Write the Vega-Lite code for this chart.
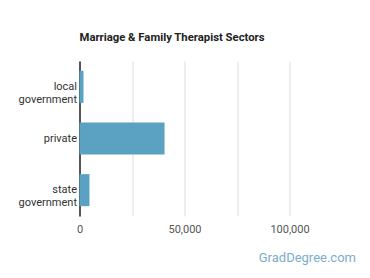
{
  "$schema": "https://vega.github.io/schema/vega-lite/v6.json",
  "autosize": "none",
  "width": 262.5,
  "height": 155,
  "padding": {"left": 79.5, "top": 61, "right": 28, "bottom": 62},
  "background": "white",
  "title": {
    "text": "Marriage & Family Therapist Sectors",
    "anchor": "start",
    "frame": "group",
    "font": "Roboto",
    "fontSize": 11.3,
    "fontWeight": "bold",
    "color": "#222222",
    "offset": 18
  },
  "data": {
    "values": [
      {"sector": "local government", "workers": 1900},
      {"sector": "private", "workers": 40500},
      {"sector": "state government", "workers": 4750}
    ]
  },
  "mark": {"type": "bar", "color": "#5ba1c2"},
  "encoding": {
    "y": {
      "field": "sector",
      "type": "nominal",
      "sort": null,
      "scale": {"paddingInner": 0.38, "paddingOuter": 0.19},
      "axis": {
        "title": null,
        "ticks": false,
        "domainColor": "#222222",
        "domainWidth": 1.5,
        "labelExpr": "split(datum.label, ' ')",
        "labelFont": "Roboto",
        "labelFontSize": 11,
        "labelColor": "#333333",
        "labelLineHeight": 13,
        "labelPadding": 3
      }
    },
    "x": {
      "field": "workers",
      "type": "quantitative",
      "scale": {"domain": [0, 125000], "nice": false},
      "axis": {
        "title": "GradDegree.com",
        "titleFont": "Roboto",
        "titleFontSize": 13,
        "titleFontWeight": "normal",
        "titleColor": "#7aaecb",
        "titleAlign": "right",
        "titleAnchor": null,
        "titleX": 276,
        "titleY": 45,
        "titleBaseline": "alphabetic",
        "values": [0, 25000, 50000, 75000, 100000],
        "labelExpr": "datum.value % 50000 === 0 ? format(datum.value, ',') : ''",
        "labelFlush": false,
        "domain": false,
        "ticks": false,
        "grid": true,
        "gridColor": "#dddddd",
        "labelFont": "Roboto",
        "labelFontSize": 11,
        "labelColor": "#555555",
        "labelPadding": 7
      }
    }
  },
  "config": {"view": {"stroke": null}}
}
